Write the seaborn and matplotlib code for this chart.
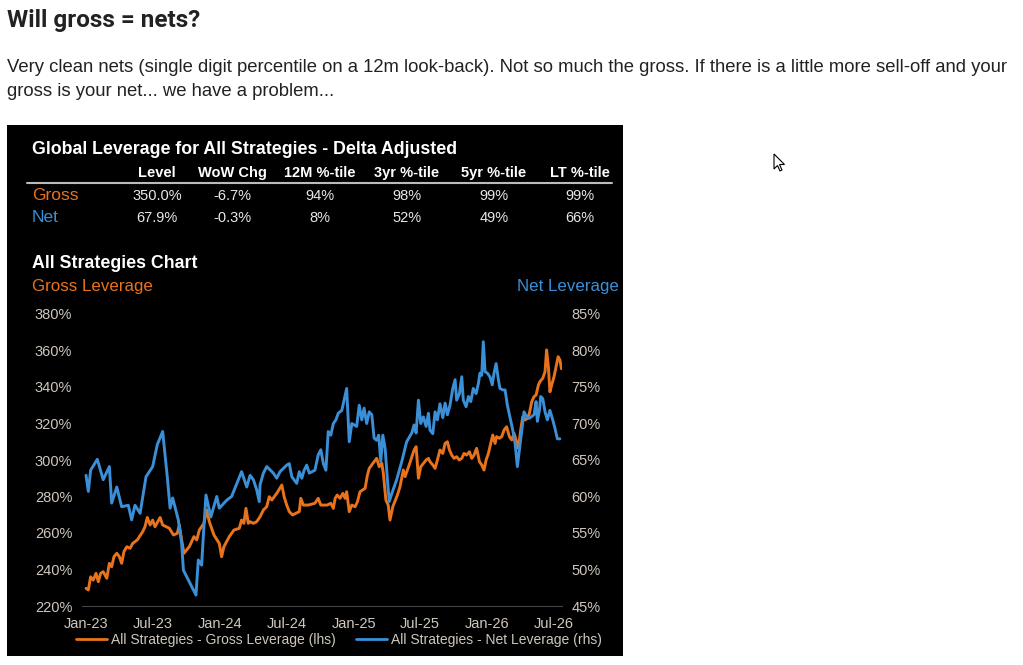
import matplotlib
matplotlib.use("Agg")
import matplotlib.pyplot as plt
import matplotlib.dates as mdates
from matplotlib.patches import Rectangle, Polygon
from matplotlib.lines import Line2D
import seaborn as sns
import pandas as pd
import numpy as np

# ---- data (weeks since 1 Jan 2023) ----
start = pd.Timestamp("2023-01-01")

gross_weeks = [0.0, 0.9, 1.8, 2.8, 3.9, 4.8, 5.7, 6.7, 8.1, 9.1, 10.0, 10.9, 12.0, 13.0, 13.9,
               14.8, 15.9, 17.2, 18.2, 20.0, 22.1, 23.0, 23.9, 25.0, 26.0, 26.9, 28.9, 29.9,
               32.5, 34.1, 35.6, 36.4, 37.3, 38.2, 40.3, 42.1, 43.2, 44.2, 46.0, 47.1, 48.1,
               49.9, 52.0, 52.9, 53.8, 55.9, 57.7, 59.8, 60.7, 61.6, 62.4, 63.3, 64.0, 65.3,
               66.6, 67.9, 69.2, 70.5, 71.5, 72.5, 74.4, 76.4, 77.3, 78.3, 79.3, 80.6, 83.2,
               83.8, 84.8, 86.7, 89.3, 90.6, 91.6, 94.1, 95.5, 96.5, 97.2, 98.0, 99.1, 100.2,
               101.1, 101.7, 102.7, 103.7, 105.0, 105.9, 106.9, 108.9, 109.8, 110.5, 112.4,
               113.4, 114.4, 115.4, 116.0, 117.0, 117.9, 118.6, 119.7, 121.5, 122.5, 123.8,
               124.5, 126.1, 128.0, 128.8, 129.7, 130.6, 132.7, 133.6, 134.2, 135.3, 136.2,
               137.1, 138.1, 139.2, 140.1, 141.0, 141.8, 142.7, 143.6, 144.6, 145.6, 146.6,
               147.5, 148.5, 149.6, 150.5, 151.4, 152.4, 153.5, 154.4, 155.3, 156.1, 157.0,
               157.9, 158.7, 159.6, 160.2, 161.3, 162.2, 163.1, 164.1, 165.2, 166.1, 167.0,
               167.8, 168.7, 169.6, 170.4, 171.3, 172.2, 173.0, 173.9, 174.8, 175.6, 176.5,
               177.1, 178.2, 179.1, 179.7, 180.4, 181.0, 181.7, 182.6, 183.4, 184.2, 184.9,
               185.5]
gross_values = [229.7, 228.8, 236.0, 234.2, 237.9, 233.3, 237.9, 238.8, 235.2, 243.4, 241.5,
                247.0, 248.9, 247.0, 243.4, 249.8, 252.5, 251.6, 254.3, 256.2, 260.7, 263.4,
                268.5, 264.4, 267.1, 263.4, 268.5, 264.4, 262.6, 258.9, 259.8, 264.4, 256.2,
                248.9, 252.5, 258.0, 256.2, 261.6, 265.3, 272.6, 266.2, 258.9, 254.3, 247.0,
                252.5, 258.0, 261.6, 262.6, 267.1, 265.3, 273.5, 265.3, 266.2, 265.3, 266.2,
                268.9, 272.6, 274.4, 279.9, 278.1, 281.7, 286.3, 279.9, 275.3, 271.7, 269.9,
                271.7, 279.0, 275.3, 275.3, 276.3, 279.0, 275.3, 275.3, 276.3, 273.5, 279.0,
                280.8, 279.0, 281.7, 279.0, 282.6, 271.7, 275.3, 274.4, 277.1, 282.6, 284.5,
                291.8, 295.4, 299.1, 300.9, 296.3, 298.2, 292.7, 278.1, 275.3, 267.1, 274.4,
                280.8, 285.4, 294.5, 290.9, 297.3, 305.5, 307.3, 290.0, 296.3, 300.0, 300.9,
                299.1, 297.3, 295.4, 300.0, 305.5, 303.6, 309.1, 310.0, 305.5, 302.7, 300.9,
                301.8, 300.0, 300.9, 303.6, 302.7, 304.5, 300.9, 302.7, 306.4, 299.1, 297.3,
                294.5, 300.0, 303.6, 309.1, 313.7, 309.1, 312.8, 311.9, 312.8, 316.4, 318.2,
                312.8, 311.0, 314.6, 311.0, 306.4, 316.4, 323.7, 321.9, 322.8, 325.6, 331.9,
                334.7, 335.6, 341.1, 342.9, 344.8, 348.4, 360.3, 351.1, 337.4, 341.1, 345.6,
                351.1, 356.6, 354.8, 350.0]

net_weeks = [0.0, 0.9, 1.8, 4.4, 6.7, 9.1, 10.0, 12.0, 13.9, 16.5, 17.8, 19.1, 21.1, 23.4,
             26.0, 27.8, 29.9, 31.7, 32.8, 33.8, 36.0, 37.3, 38.0, 40.3, 42.9, 43.8, 45.1,
             46.0, 46.8, 48.7, 51.0, 52.0, 54.9, 56.8, 60.7, 62.7, 64.0, 65.3, 66.6, 67.6,
             67.9, 69.2, 70.5, 73.1, 74.4, 75.7, 78.3, 79.3, 80.3, 82.2, 83.2, 84.2, 85.1,
             86.1, 87.1, 89.3, 90.6, 91.6, 92.6, 93.6, 94.5, 95.5, 96.5, 97.5, 98.4, 99.8,
             100.7, 101.7, 102.7, 103.7, 105.6, 106.6, 107.6, 108.5, 109.5, 110.5, 111.5,
             112.4, 113.4, 114.2, 115.0, 115.8, 116.7, 117.6, 118.3, 119.3, 121.2, 123.2,
             125.1, 127.1, 128.0, 128.8, 129.7, 130.6, 131.6, 132.7, 133.6, 134.2, 135.3,
             136.2, 137.1, 138.1, 139.2, 140.1, 141.0, 142.0, 143.1, 144.0, 144.6, 145.7,
             146.6, 147.2, 148.3, 149.2, 150.1, 151.1, 152.2, 153.1, 153.7, 154.4, 155.0,
             155.7, 156.6, 157.6, 158.5, 159.2, 160.0, 160.9, 161.5, 162.6, 163.5, 164.4,
             165.4, 166.5, 167.4, 168.3, 169.1, 170.0, 170.9, 171.9, 172.9, 174.8, 175.6,
             176.1, 176.9, 177.4, 178.2, 179.1, 180.0, 181.0, 182.1, 183.0, 183.9, 184.9]
net_values = [62.9, 60.7, 63.6, 65.1, 62.3, 64.1, 59.1, 61.3, 58.6, 58.8, 56.8, 58.8, 57.7,
              62.7, 64.1, 67.1, 68.9, 62.7, 58.4, 59.8, 56.8, 53.6, 49.9, 48.3, 46.5, 51.3,
              50.6, 55.9, 60.2, 57.2, 60.0, 58.4, 59.5, 60.0, 63.4, 61.3, 62.9, 62.3, 60.9,
              59.3, 61.6, 63.2, 64.1, 63.2, 62.5, 63.4, 64.3, 64.5, 62.7, 61.8, 63.4, 62.5,
              63.6, 64.3, 63.2, 63.6, 65.7, 66.4, 64.5, 63.6, 68.9, 68.4, 70.0, 70.5, 71.4,
              71.8, 73.2, 74.8, 67.5, 70.0, 69.6, 72.5, 70.5, 72.1, 70.0, 71.6, 71.2, 68.0,
              67.7, 68.4, 64.8, 68.4, 66.6, 62.3, 59.3, 60.4, 62.3, 64.8, 67.5, 68.7, 69.8,
              68.7, 73.2, 70.0, 70.9, 69.6, 71.4, 69.1, 68.6, 71.6, 70.5, 72.7, 70.8, 72.8,
              71.2, 72.5, 74.8, 76.0, 73.2, 74.1, 76.4, 73.2, 72.3, 73.7, 73.0, 74.8, 74.1,
              75.5, 76.9, 76.6, 81.2, 77.1, 76.9, 76.4, 75.3, 76.9, 78.2, 76.0, 74.8, 74.6,
              74.6, 72.5, 70.9, 69.1, 67.3, 64.1, 66.4, 69.1, 71.6, 70.9, 70.7, 71.2, 73.0,
              70.3, 71.8, 73.7, 73.4, 71.6, 70.5, 71.8, 70.5, 69.3, 67.9, 67.9]

table_cols = ["Level", "WoW Chg", "12M %-tile", "3yr %-tile", "5yr %-tile", "LT %-tile"]
gross_row = ["350.0%", "-6.7%", "94%", "98%", "99%", "99%"]
net_row = ["67.9%", "-0.3%", "8%", "52%", "49%", "66%"]

lhs_ticks = [220, 240, 260, 280, 300, 320, 340, 360, 380]
rhs_ticks = [45, 50, 55, 60, 65, 70, 75, 80, 85]
x_ticks = ["2023-01-01", "2023-07-01", "2024-01-01", "2024-07-01",
           "2025-01-01", "2025-07-01", "2026-01-01", "2026-07-01"]

ORANGE = "#e8731c"
BLUE = "#3b8fd6"
LABEL = "#cfc7bd"
W, H = 1023, 665

gross_dates = start + pd.to_timedelta(np.array(gross_weeks) * 7, unit="D")
net_dates = start + pd.to_timedelta(np.array(net_weeks) * 7, unit="D")

sns.set_style("white")
plt.rcParams["font.family"] = ["Liberation Sans", "DejaVu Sans"]


def fx(x):
    return x / W


def fy(y):
    return 1 - y / H


fig = plt.figure(figsize=(W / 100, H / 100), dpi=100, facecolor="white")

# page heading + paragraph
fig.text(fx(7), fy(20), "Will gross = nets?", fontsize=17.5, fontweight="bold",
         family=["Roboto", "DejaVu Sans"], color="#222222", va="center")
fig.text(fx(7), fy(67), "Very clean nets (single digit percentile on a 12m look-back). Not so much "
         "the gross. If there is a little more sell-off and your", fontsize=13.3, color="#222222",
         va="center")
fig.text(fx(7), fy(92), "gross is your net... we have a problem...", fontsize=13.3,
         color="#222222", va="center")

# black chart panel
fig.patches.append(Rectangle((fx(7), fy(656)), fx(623) - fx(7), fy(125) - fy(656),
                             transform=fig.transFigure, facecolor="black", edgecolor="none",
                             zorder=-5))

# mouse cursor
cur = np.array([[0, 0], [0, 15], [3.5, 11.5], [6, 17], [8, 16], [5.5, 10.5], [10.5, 10.5]])
fig.patches.append(Polygon([(fx(774 + a), fy(154 + b)) for a, b in cur], closed=True,
                           transform=fig.transFigure, facecolor="white", edgecolor="black",
                           linewidth=0.8, zorder=5))

# table
fig.text(fx(32), fy(150), "Global Leverage for All Strategies - Delta Adjusted", fontsize=12.8,
         fontweight="bold", color="white", va="center")
col_x = [157, 232, 320, 407, 494, 580]
for cx, lab in zip(col_x, table_cols):
    fig.text(fx(cx), fy(173), lab, fontsize=10.5, fontweight="bold", color="white",
             ha="center", va="center")
fig.add_artist(Line2D([fx(27), fx(612)], [fy(183), fy(183)], color="#bbbbbb", linewidth=1.5))
fig.text(fx(32), fy(196), "Gross", fontsize=12.5, color=ORANGE, va="center")
fig.text(fx(32), fy(218), "Net", fontsize=12.5, color=BLUE, va="center")
for cx, g, n in zip(col_x, gross_row, net_row):
    fig.text(fx(cx), fy(196), g, fontsize=10.5, color="#e8e8e8", ha="center", va="center")
    fig.text(fx(cx), fy(218), n, fontsize=10.5, color="#e8e8e8", ha="center", va="center")

fig.text(fx(32), fy(263), "All Strategies Chart", fontsize=12.8, fontweight="bold",
         color="white", va="center")
fig.text(fx(32), fy(287), "Gross Leverage", fontsize=12.2, color=ORANGE, va="center")
fig.text(fx(619), fy(287), "Net Leverage", fontsize=12.2, color=BLUE, va="center", ha="right")

# chart
ax = fig.add_axes([fx(82), fy(606), fx(562) - fx(82), fy(314) - fy(606)])
ax.set_facecolor("none")
ax2 = ax.twinx()

sns.lineplot(x=gross_dates, y=gross_values, ax=ax, color=ORANGE, linewidth=2.1)
sns.lineplot(x=net_dates, y=net_values, ax=ax2, color=BLUE, linewidth=2.1)

ax.set_ylim(220, 380)
ax2.set_ylim(45, 85)
ax.set_yticks(lhs_ticks)
ax.set_yticklabels([f"{v}%" for v in lhs_ticks])
ax2.set_yticks(rhs_ticks)
ax2.set_yticklabels([f"{v}%" for v in rhs_ticks])
ax.set_xlim(start - pd.Timedelta(days=11), start + pd.Timedelta(days=1300))
ax.set_xticks(pd.to_datetime(x_ticks))
ax.xaxis.set_major_formatter(mdates.DateFormatter("%b-%y"))

for a in (ax, ax2):
    for s in a.spines.values():
        s.set_visible(False)
    a.set_xlabel("")
    a.set_ylabel("")
    a.tick_params(axis="y", length=0, labelsize=10.5, labelcolor=LABEL, pad=7)
ax.spines["bottom"].set_visible(True)
ax.spines["bottom"].set_color("#444444")
ax.tick_params(axis="x", direction="in", length=3, color="#444444", labelsize=10.5,
               labelcolor=LABEL, pad=8)

handles = [Line2D([], [], color=ORANGE, linewidth=2), Line2D([], [], color=BLUE, linewidth=2)]
fig.legend(handles, ["All Strategies - Gross Leverage (lhs)", "All Strategies - Net Leverage (rhs)"],
           loc="center", bbox_to_anchor=(fx(339), fy(640)), ncol=2, frameon=False,
           fontsize=10, labelcolor=LABEL, handlelength=2.2, handletextpad=0.3,
           columnspacing=1.5)

fig.savefig("out.png", dpi=100, facecolor="white")
